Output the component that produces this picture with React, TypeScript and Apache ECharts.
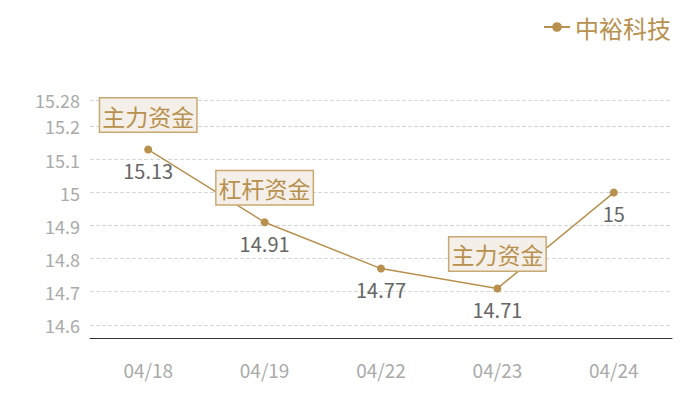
import { useEffect, useRef } from "react";
import * as echarts from "echarts";

const dates = ["04/18", "04/19", "04/22", "04/23", "04/24"];
const prices = [15.13, 14.91, 14.77, 14.71, 15];
const tags = [
  { date: "04/18", value: 15.13, text: "主力资金" },
  { date: "04/19", value: 14.91, text: "杠杆资金" },
  { date: "04/23", value: 14.71, text: "主力资金" },
];

const GOLD = "#b8914f";
const FONT = "'Noto Sans CJK SC', 'Noto Sans', sans-serif";

export default function App() {
  const ref = useRef<HTMLDivElement>(null);

  useEffect(() => {
    if (!ref.current) return;
    const chart = echarts.init(ref.current, undefined, { renderer: "svg" });
    chart.setOption({
      animation: false,
      textStyle: { fontFamily: FONT },
      legend: {
        right: 16,
        top: 2,
        itemWidth: 26,
        itemHeight: 12,
        itemGap: 6,
        textStyle: { color: GOLD, fontSize: 24, fontFamily: FONT },
        data: ["中裕科技"],
      },
      grid: { left: 82, right: 20, top: 92, bottom: 54 },
      xAxis: {
        type: "category",
        data: dates,
        axisLine: { lineStyle: { color: "#333" } },
        axisTick: { show: false },
        axisLabel: { color: "#aaa", fontSize: 19, margin: 22 },
      },
      yAxis: {
        type: "value",
        min: 14.56,
        max: 15.28,
        axisLine: { show: false },
        axisTick: { show: false },
        axisLabel: { color: "#aaa", fontSize: 18, margin: 10, showMinLabel: false },
        splitLine: { lineStyle: { color: "#d6d6d6", type: "dashed" } },
      },
      series: [
        {
          name: "中裕科技",
          type: "line",
          data: prices,
          symbol: "circle",
          symbolSize: 8,
          itemStyle: { color: GOLD },
          lineStyle: { color: GOLD, width: 1.5 },
          label: {
            show: true,
            position: "bottom",
            distance: 7,
            color: "#666",
            fontSize: 20,
          },
          markPoint: {
            symbol: "circle",
            symbolSize: 0,
            label: {
              show: true,
              position: "top",
              distance: 18,
              formatter: (p: any) => p.name,
              color: GOLD,
              fontSize: 23,
              lineHeight: 26,
              backgroundColor: "#f4efe8",
              borderColor: "#c9a874",
              borderWidth: 1.5,
              padding: [4, 2, 3, 2],
            },
            data: tags.map((t) => ({ name: t.text, coord: [t.date, t.value], value: t.value })),
          },
        },
      ],
    });
    return () => chart.dispose();
  }, []);

  return <div ref={ref} style={{ width: 684, height: 384 }} />;
}
